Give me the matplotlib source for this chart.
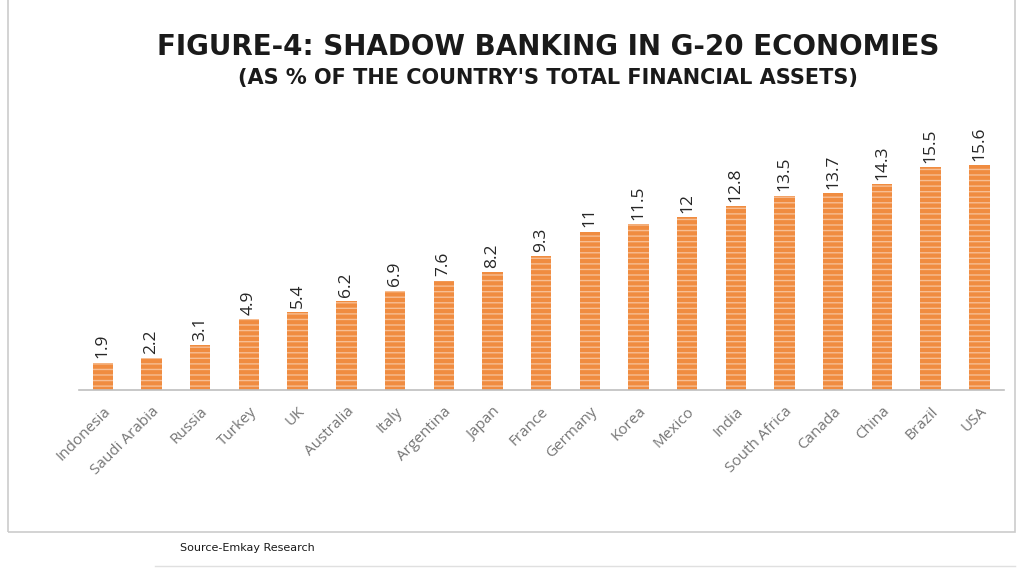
import numpy as np
import matplotlib.pyplot as plt
from matplotlib.patches import Rectangle
from matplotlib.lines import Line2D

countries = ['Indonesia', 'Saudi Arabia', 'Russia', 'Turkey', 'UK', 'Australia',
             'Italy', 'Argentina', 'Japan', 'France', 'Germany', 'Korea', 'Mexico',
             'India', 'South Africa', 'Canada', 'China', 'Brazil', 'USA']
shares = [1.9, 2.2, 3.1, 4.9, 5.4, 6.2, 6.9, 7.6, 8.2, 9.3, 11, 11.5, 12,
          12.8, 13.5, 13.7, 14.3, 15.5, 15.6]
value_labels = ['1.9', '2.2', '3.1', '4.9', '5.4', '6.2', '6.9', '7.6', '8.2', '9.3',
                '11', '11.5', '12', '12.8', '13.5', '13.7', '14.3', '15.5', '15.6']

fig = plt.figure(figsize=(10.2, 5.7), dpi=100)
ax = fig.add_axes([0.077, 0.3158, 0.907, 0.421])

x = np.arange(len(countries))
plt.rcParams['hatch.linewidth'] = 1.0
bars = ax.bar(x, shares, width=0.42, color='#F08C40', edgecolor='#F7BE93',
              hatch='---', linewidth=0)

for xi, v, lab in zip(x, shares, value_labels):
    ax.annotate(lab, (xi, v), xytext=(0, 3), textcoords='offset points',
                rotation=90, ha='center', va='bottom', fontsize=12.5,
                color='#262626', family='Open Sans')

ax.set_xlim(-0.5, len(countries) - 0.5)
ax.set_ylim(0, 16.67)
ax.set_yticks([])
ax.set_xticks(x)
ax.set_xticklabels(countries, rotation=45, ha='right', rotation_mode='anchor',
                   fontsize=11, color='#767676', family='Open Sans')
ax.tick_params(axis='x', length=0, pad=10)
for s in ['top', 'right', 'left']:
    ax.spines[s].set_visible(False)
ax.spines['bottom'].set_color('#BFBFBF')
ax.spines['bottom'].set_linewidth(1.2)

fig.text(0.537, 0.918, 'FIGURE-4: SHADOW BANKING IN G-20 ECONOMIES', ha='center',
         va='center', fontsize=20, fontweight='bold', color='#1a1a1a',
         family='DejaVu Sans')
fig.text(0.537, 0.863, "(AS % OF THE COUNTRY'S TOTAL FINANCIAL ASSETS)", ha='center',
         va='center', fontsize=15, fontweight='bold', color='#1a1a1a',
         family='DejaVu Sans')

# outer chart frame
fig.patches.append(Rectangle((8 / 1020, 1 - 532 / 570), 1007 / 1020, 540 / 570,
                             transform=fig.transFigure, fill=False,
                             edgecolor='#CCCCCC', linewidth=1.2))
fig.lines.append(Line2D([155 / 1020, 1015 / 1020], [1 - 566 / 570] * 2,
                        transform=fig.transFigure, color='#E0E0E0', linewidth=1))
fig.text(180 / 1020, 1 - 548 / 570, 'Source-Emkay Research', ha='left', va='center',
         fontsize=8, color='#1a1a1a', family='Liberation Sans Narrow')

fig.savefig('out.png', dpi=100)
